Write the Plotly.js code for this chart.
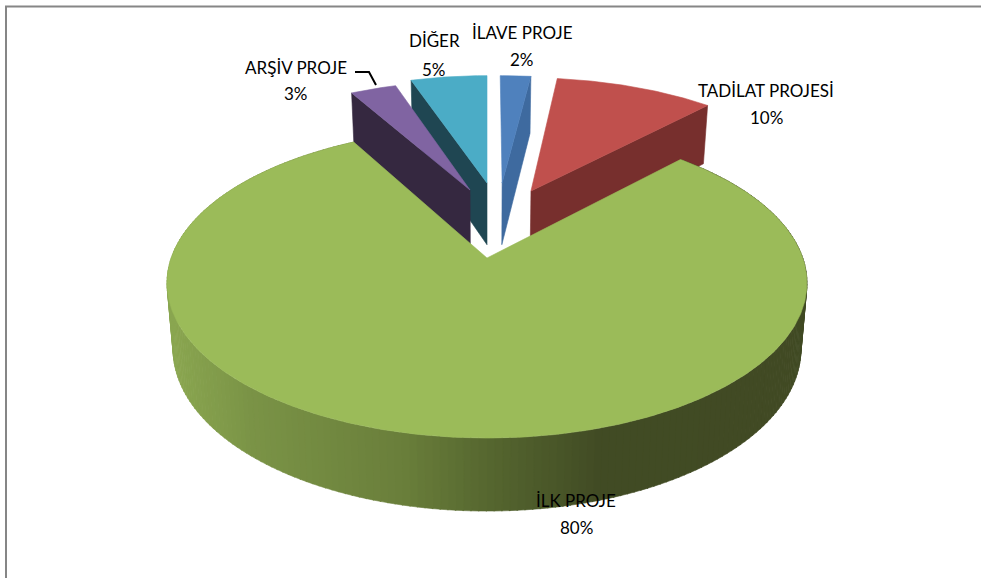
<!DOCTYPE html>
<html>
<head>
<meta charset="utf-8">
<script src="https://cdn.plot.ly/plotly-3.0.1.min.js"></script>
<style>html,body{margin:0;padding:0;background:#fff}#chart{width:981px;height:578px}</style>
</head>
<body>
<div id="chart"></div>
<script>
// ---- data (clockwise from 12 o'clock) ----
const categories = ['İLAVE PROJE', 'TADİLAT PROJESİ', 'İLK PROJE', 'ARŞİV PROJE', 'DİĞER'];
const percents = [2, 10, 80, 3, 5];

// ---- styles ----
const topColors = ['#4f81bd', '#c0504d', '#9bbb59', '#8064a2', '#4bacc6'];
const faceColors = ['#3e6a9f', '#772f2d', null, '#352840', '#1f4652'];
// which cut face of an exploded slice is visible: start of slice (0) or its end (1)
const faceEdge = [1, 1, null, 0, 0];
// slice explosion in disk units and radius factor
const explodeX = [0.052, 0.15, 0, -0.058, 0];
const explodeY = [0.54, 0.478, 0, 0.4856, 0.54];
const radiusK = [0.96, 1.0, 1, 0.96, 0.96];
const drawOrder = [4, 3, 0, 1, 2];

// ---- perspective of the disk ----
const CX = 487, CY = 258, A = 315.8, B = 151, K = 0.1613;
function project(X, Y) {
  const d = 1 + K * Y;
  return [CX + A * X / d, CY - B * Y / d];
}
function lower(p) { // same point on the bottom face of the extrusion
  return [CX + (p[0] - CX) * 0.981, p[1] + 57 + 0.0442 * (p[1] - 76)];
}
function rad(pct) { return pct * 3.6 * Math.PI / 180; }

// green wall gradient (by screen x)
const gradX = [170, 250, 400, 490, 600, 990];
const gradC = [[138,166,80],[122,147,70],[106,127,59],[85,102,47],[65,75,36],[64,73,35]];
function wallColor(x) {
  let i = 0;
  while (i < gradX.length - 2 && x > gradX[i + 1]) i++;
  const t = Math.min(1, Math.max(0, (x - gradX[i]) / (gradX[i + 1] - gradX[i])));
  const c = gradC[i].map((v, j) => Math.round(v + (gradC[i + 1][j] - v) * t));
  return 'rgb(' + c.join(',') + ')';
}

function poly(pts, color, name) {
  return {
    type: 'scatter', mode: 'lines', name: name,
    x: pts.map(p => p[0]), y: pts.map(p => p[1]),
    fill: 'toself', fillcolor: color,
    line: {color: color, width: 0.6},
    hoverinfo: 'skip', showlegend: false
  };
}

// angular extent of every slice, from the values
const starts = [];
percents.reduce((sum, v, i) => { starts[i] = sum; return sum + v; }, 0);

const traces = [];
drawOrder.forEach(i => {
  const a0 = rad(starts[i]), a1 = rad(starts[i] + percents[i]);
  const ox = explodeX[i], oy = explodeY[i], r = radiusK[i];
  const pt = a => project(ox + r * Math.sin(a), oy + r * Math.cos(a));
  const apex = project(ox, oy);
  if (faceColors[i]) {
    const e = pt(faceEdge[i] ? a1 : a0);
    traces.push(poly([apex, e, lower(e), lower(apex), apex], faceColors[i], categories[i]));
  } else {
    const step = Math.PI / 150;
    for (let a = a0; a < a1 - 1e-6; a += step) {
      const b = Math.min(a + step * 1.15, a1);
      const p = pt(a), q = pt(b);
      traces.push(poly([p, q, lower(q), lower(p), p], wallColor((p[0] + q[0]) / 2), categories[i]));
    }
  }
  const pts = [apex];
  const n = Math.max(6, Math.ceil((a1 - a0) / 0.01));
  for (let k = 0; k <= n; k++) pts.push(pt(a0 + (a1 - a0) * k / n));
  pts.push(apex);
  traces.push(poly(pts, topColors[i], categories[i]));
});

// leader line for the small slice
traces.push({
  type: 'scatter', mode: 'lines', x: [355, 369, 376], y: [72, 72, 85],
  line: {color: '#000', width: 2}, hoverinfo: 'skip', showlegend: false
});

// labels: name line and percent line
const labelX = [522, 766, 576, 296, 434];
const nameY = [32, 90, 500, 67, 40];
const pctY = [59, 117, 527, 93, 69];
const annotations = [];
categories.forEach((c, i) => {
  const base = {xref: 'x', yref: 'y', x: labelX[i], showarrow: false,
    xanchor: 'center', yanchor: 'middle',
    font: {family: 'Lato, Carlito, sans-serif', size: 17, color: '#000'}};
  annotations.push(Object.assign({}, base, {y: nameY[i], text: c}));
  annotations.push(Object.assign({}, base, {y: pctY[i], text: percents[i] + '%'}));
});

const layout = {
  width: 981, height: 578,
  margin: {l: 0, r: 0, t: 0, b: 0},
  paper_bgcolor: '#fff', plot_bgcolor: '#fff',
  xaxis: {range: [0, 981], visible: false, fixedrange: true},
  yaxis: {range: [578, 0], visible: false, fixedrange: true},
  annotations: annotations,
  shapes: [
    {type: 'line', xref: 'x', yref: 'y', x0: 5, y0: 6.5, x1: 981, y1: 6.5, line: {color: '#868686', width: 2}},
    {type: 'line', xref: 'x', yref: 'y', x0: 6, y0: 6, x1: 6, y1: 578, line: {color: '#868686', width: 2}}
  ]
};
Plotly.newPlot('chart', traces, layout, {displayModeBar: false, staticPlot: true});
</script>
</body>
</html>
